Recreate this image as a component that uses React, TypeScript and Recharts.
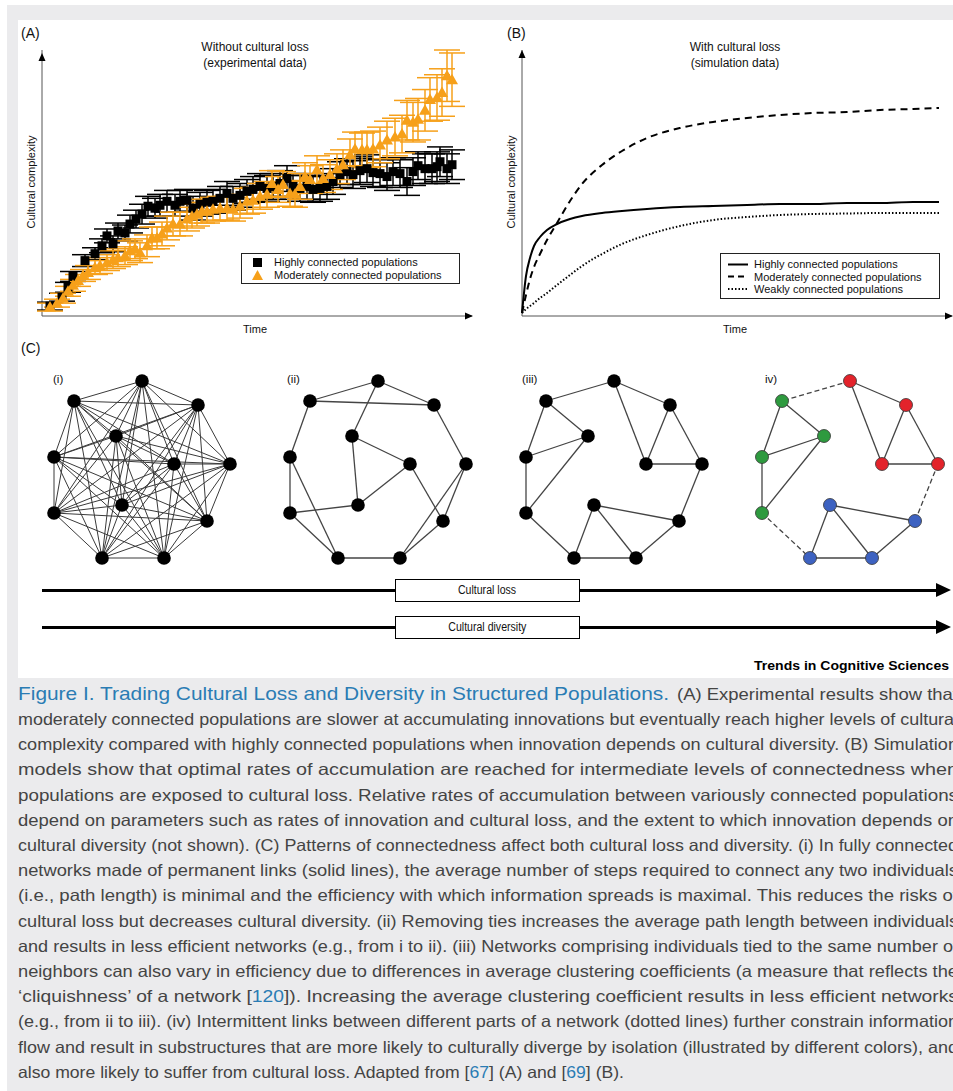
import React from "react";
import {
  ScatterChart,
  Scatter,
  XAxis,
  YAxis,
  ErrorBar,
  ReferenceLine,
  ReferenceDot,
  LineChart,
  Line,
} from "recharts";

const FONT = '"Liberation Sans", Arial, Helvetica, sans-serif';
const ORANGE = "#f6a01a";
const CAPTION = "#444";

// Panel A: experimental data (time, complexity, error)
const highT = [8, 20, 26, 31, 43, 53, 60, 65, 71, 76, 83, 88, 94, 100, 106, 113, 118, 125, 133, 138, 145, 151, 158, 165, 171, 178, 185, 191, 198, 205, 211, 218, 225, 231, 238, 245, 251, 258, 265, 271, 278, 285, 291, 298, 305, 311, 318, 325, 331, 338, 345, 351, 358, 365, 371, 376, 383, 390, 395, 398, 405, 410];
const highY = [10, 19, 29, 40, 56, 63, 71, 81, 73, 86, 84, 93, 98, 103, 111, 109, 112, 116, 112, 116, 117, 109, 113, 115, 116, 119, 124, 119, 122, 126, 128, 131, 129, 131, 134, 139, 131, 129, 131, 128, 129, 131, 136, 143, 146, 143, 147, 149, 145, 144, 141, 146, 144, 136, 146, 152, 149, 149, 151, 156, 149, 153];
const highErr = [4, 4, 5, 5, 6, 6, 7, 7, 8, 8, 8, 9, 9, 10, 10, 10, 11, 11, 11, 11, 11, 12, 12, 12, 12, 12, 12, 12, 12, 12, 13, 13, 13, 13, 13, 13, 13, 13, 13, 13, 13, 13, 13, 13, 13, 14, 14, 14, 14, 14, 14, 14, 14, 14, 14, 14, 15, 15, 15, 15, 15, 15];

const modT = [8, 15, 21, 26, 31, 36, 41, 46, 53, 58, 65, 71, 76, 83, 88, 93, 98, 105, 110, 115, 120, 125, 131, 138, 145, 150, 155, 160, 165, 171, 178, 185, 191, 198, 205, 211, 218, 225, 230, 236, 241, 248, 253, 258, 263, 268, 275, 281, 288, 295, 301, 308, 313, 320, 325, 331, 338, 345, 353, 360, 365, 371, 376, 383, 388, 395, 400, 405, 410];
const modY = [9, 13, 18, 25, 31, 36, 41, 44, 49, 51, 54, 57, 59, 61, 66, 68, 64, 71, 79, 79, 83, 89, 93, 93, 98, 101, 103, 106, 106, 108, 109, 109, 108, 111, 116, 117, 121, 123, 134, 128, 133, 124, 123, 131, 141, 138, 148, 139, 143, 149, 153, 163, 169, 168, 168, 169, 173, 178, 181, 184, 198, 196, 199, 208, 219, 221, 226, 243, 239];
const modErr = [4, 4, 5, 5, 6, 6, 6, 7, 7, 8, 8, 9, 9, 9, 10, 10, 10, 11, 11, 11, 12, 12, 12, 12, 12, 12, 12, 12, 12, 12, 12, 12, 12, 12, 13, 13, 13, 13, 13, 13, 13, 13, 13, 13, 14, 14, 14, 14, 15, 15, 15, 16, 17, 17, 18, 18, 18, 19, 19, 19, 20, 20, 21, 21, 22, 23, 24, 26, 27];

// Panel B: simulation curves
const simTime = [0, 4, 8, 12, 18, 25, 35, 48, 60, 80, 100, 125, 158, 191, 225, 258, 291, 325, 358, 391, 417];
const simHigh = [3, 40, 58, 70, 79, 86, 92, 97, 100, 103, 105, 107, 109, 110, 111, 112, 112, 113, 113, 114, 114];
const simModerate = [3, 21, 37, 49, 62, 76, 93, 115, 132, 151, 165, 178, 188, 194, 198, 201, 203, 204, 206, 207, 208];
const simWeak = [3, 7, 10, 13, 18, 23, 31, 41, 50, 62, 72, 81, 90, 96, 99, 101, 102, 102.5, 103, 103, 103];

// Panel C: shared 12-node layout and the links of each network
const layoutX = [142, 74, 198, 116, 54, 174, 230, 122, 54, 207, 102, 164];
const layoutY = [21, 41, 45, 76, 97, 104, 104, 145, 153, 161, 198, 198];
const netOffset = [0, 236, 472, 708];
const netLabels = ["(i)", "(ii)", "(iii)", "iv)"];
const edgesII = [[0, 1], [0, 2], [1, 2], [0, 3], [3, 5], [3, 7], [5, 7], [1, 4], [4, 8], [4, 10], [8, 7], [8, 10], [10, 11], [5, 9], [2, 6], [6, 9], [6, 11], [9, 11]];
const edgesIII = [[0, 1], [0, 2], [0, 5], [2, 5], [2, 6], [5, 6], [1, 3], [1, 4], [4, 3], [4, 8], [8, 3], [8, 10], [10, 7], [10, 11], [7, 11], [7, 9], [11, 9], [6, 9]];
const dashedIV = ["0-1", "6-9", "8-10"];
const colorsIV = ["#e3232b", "#2e9a3f", "#e3232b", "#2e9a3f", "#2e9a3f", "#e3232b", "#e3232b", "#3d62c1", "#2e9a3f", "#3d62c1", "#3d62c1", "#3d62c1"];

const captionLines = [
  "moderately connected populations are slower at accumulating innovations but eventually reach higher levels of cultural",
  "complexity compared with highly connected populations when innovation depends on cultural diversity. (B) Simulation",
  "models show that optimal rates of accumulation are reached for intermediate levels of connectedness when",
  "populations are exposed to cultural loss. Relative rates of accumulation between variously connected populations",
  "depend on parameters such as rates of innovation and cultural loss, and the extent to which innovation depends on",
  "cultural diversity (not shown). (C) Patterns of connectedness affect both cultural loss and diversity. (i) In fully connected",
  "networks made of permanent links (solid lines), the average number of steps required to connect any two individuals",
  "(i.e., path length) is minimal and the efficiency with which information spreads is maximal. This reduces the risks of",
  "cultural loss but decreases cultural diversity. (ii) Removing ties increases the average path length between individuals",
  "and results in less efficient networks (e.g., from i to ii). (iii) Networks comprising individuals tied to the same number of",
  "neighbors can also vary in efficiency due to differences in average clustering coefficients (a measure that reflects the",
];

const highData = highT.map((x, i) => ({ x, y: highY[i], e: highErr[i] }));
const modData = modT.map((x, i) => ({ x, y: modY[i], e: modErr[i] }));
const simData = simTime.map((t, i) => ({ t, high: simHigh[i], moderate: simModerate[i], weak: simWeak[i] }));

const allPairs: number[][] = [];
for (let a = 0; a < 12; a++) for (let b = a + 1; b < 12; b++) allPairs.push([a, b]);
const netEdges = [allPairs, edgesII, edgesIII, edgesIII];

const nodes = netOffset.flatMap((off, n) =>
  layoutX.map((x, i) => ({ x: x + off, y: layoutY[i], fill: n === 3 ? colorsIV[i] : "#000", colored: n === 3 }))
);

const upArrow = (p: any) => (
  <polygon points={`${p.cx},${p.cy} ${p.cx - 3.5},${p.cy + 8} ${p.cx + 3.5},${p.cy + 8}`} fill="#000" />
);
const rightArrow = (p: any) => (
  <polygon points={`${p.cx + 1},${p.cy} ${p.cx - 7},${p.cy - 3.5} ${p.cx - 7},${p.cy + 3.5}`} fill="#000" />
);

const txt = (style: React.CSSProperties): React.CSSProperties => ({
  position: "absolute",
  fontFamily: FONT,
  color: "#111",
  whiteSpace: "nowrap",
  ...style,
});

const Titles = ({ cx, l1, l2 }: { cx: number; l1: string; l2: string }) => (
  <div style={txt({ left: cx - 100, top: 39, width: 200, textAlign: "center", fontSize: 12, lineHeight: "16px" })}>
    {l1}
    <br />
    {l2}
  </div>
);

const YLabel = ({ cx }: { cx: number }) => (
  <div
    style={txt({
      left: cx - 60,
      top: 175,
      width: 120,
      height: 14,
      lineHeight: "14px",
      textAlign: "center",
      fontSize: 11,
      transform: "rotate(-90deg)",
    })}
  >
    Cultural complexity
  </div>
);

const FlowArrow = ({ y, label }: { y: number; label: string }) => (
  <>
    <div style={{ position: "absolute", left: 42, top: y - 1.5, width: 898, height: 3, background: "#000" }} />
    <svg style={{ position: "absolute", left: 936, top: y - 7 }} width={16} height={14}>
      <polygon points="0,0 15,7 0,14" fill="#000" />
    </svg>
    <div
      style={txt({
        left: 395,
        top: y - 11,
        width: 183,
        height: 21,
        border: "1px solid #000",
        background: "#fff",
        textAlign: "center",
        lineHeight: "21px",
        fontSize: 12,
      })}
    >
      <span style={{ display: "inline-block", transform: "scaleX(0.88)" }}>{label}</span>
    </div>
  </>
);

export default function App() {
  return (
    <div style={{ position: "absolute", left: 0, top: 0, width: 953, height: 1091, background: "#fff", overflow: "hidden" }}>
      <div style={{ position: "absolute", left: 7, top: 5, width: 946, height: 1086, background: "#ebebed" }} />
      <div style={{ position: "absolute", left: 18, top: 20, width: 935, height: 658, background: "#fff" }} />

      {/* Panel A */}
      <div style={{ position: "absolute", left: 0, top: 0 }}>
        <ScatterChart width={480} height={340} margin={{ top: 50, left: 42, right: 8, bottom: 24 }}>
          <XAxis type="number" dataKey="x" domain={[0, 430]} hide />
          <YAxis type="number" dataKey="y" domain={[0, 266]} hide />
          <ReferenceLine x={0} stroke="#555" strokeWidth={1} ifOverflow="visible" />
          <ReferenceLine y={0} stroke="#555" strokeWidth={1} ifOverflow="visible" />
          <ReferenceDot x={0} y={266} ifOverflow="visible" shape={upArrow} />
          <ReferenceDot x={430} y={0} ifOverflow="visible" shape={rightArrow} />
          <Scatter
            data={highData}
            isAnimationActive={false}
            shape={(p: any) => <rect x={p.cx - 4.5} y={p.cy - 4.5} width={9} height={9} fill="#000" />}
          >
            <ErrorBar dataKey="e" direction="y" width={13} stroke="#000" strokeWidth={1.5} isAnimationActive={false} />
          </Scatter>
          <Scatter
            data={modData}
            isAnimationActive={false}
            shape={(p: any) => (
              <polygon points={`${p.cx},${p.cy - 6} ${p.cx - 6},${p.cy + 4.5} ${p.cx + 6},${p.cy + 4.5}`} fill={ORANGE} />
            )}
          >
            <ErrorBar dataKey="e" direction="y" width={13} stroke={ORANGE} strokeWidth={1.5} isAnimationActive={false} />
          </Scatter>
        </ScatterChart>
      </div>
      <div style={txt({ left: 21, top: 25, fontSize: 14, lineHeight: "16px" })}>(A)</div>
      <Titles cx={255} l1="Without cultural loss" l2="(experimental data)" />
      <YLabel cx={31} />
      <div style={txt({ left: 205, top: 322, width: 100, textAlign: "center", fontSize: 11, lineHeight: "14px" })}>Time</div>
      <div style={{ position: "absolute", left: 241, top: 253, width: 217, height: 29, border: "1px solid #222", background: "#fff" }}>
        <svg style={{ position: "absolute", left: 0, top: 0 }} width={30} height={29}>
          <rect x={11} y={4} width={9} height={9} fill="#000" />
          <polygon points="15.5,16 10,26 21,26" fill={ORANGE} />
        </svg>
        <div style={txt({ left: 32, top: 2, fontSize: 11, lineHeight: "12px" })}>Highly connected populations</div>
        <div style={txt({ left: 32, top: 15, fontSize: 11, lineHeight: "12px" })}>Moderately connected populations</div>
      </div>

      {/* Panel B */}
      <div style={{ position: "absolute", left: 480, top: 0 }}>
        <LineChart width={473} height={340} data={simData} margin={{ top: 50, left: 42, right: 1, bottom: 24 }}>
          <XAxis type="number" dataKey="t" domain={[0, 430]} hide />
          <YAxis type="number" domain={[0, 266]} hide />
          <ReferenceLine x={0} stroke="#555" strokeWidth={1} ifOverflow="visible" />
          <ReferenceLine y={0} stroke="#555" strokeWidth={1} ifOverflow="visible" />
          <ReferenceDot x={0} y={266} ifOverflow="visible" shape={upArrow} />
          <ReferenceDot x={430} y={0} ifOverflow="visible" shape={rightArrow} />
          <Line type="monotone" dataKey="weak" stroke="#000" strokeWidth={2} strokeDasharray="1.5 2" dot={false} isAnimationActive={false} />
          <Line type="monotone" dataKey="moderate" stroke="#000" strokeWidth={2} strokeDasharray="7 5" dot={false} isAnimationActive={false} />
          <Line type="monotone" dataKey="high" stroke="#000" strokeWidth={2} dot={false} isAnimationActive={false} />
        </LineChart>
      </div>
      <div style={txt({ left: 507, top: 25, fontSize: 14, lineHeight: "16px" })}>(B)</div>
      <Titles cx={735} l1="With cultural loss" l2="(simulation data)" />
      <YLabel cx={511} />
      <div style={txt({ left: 685, top: 322, width: 100, textAlign: "center", fontSize: 11, lineHeight: "14px" })}>Time</div>
      <div style={{ position: "absolute", left: 720, top: 253, width: 218, height: 44, border: "1px solid #222", background: "#fff" }}>
        <svg style={{ position: "absolute", left: 0, top: 0 }} width={32} height={44}>
          <line x1={7} x2={27} y1={10.5} y2={10.5} stroke="#000" strokeWidth={2} />
          <line x1={7} x2={27} y1={22.5} y2={22.5} stroke="#000" strokeWidth={2} strokeDasharray="6 4" />
          <line x1={7} x2={27} y1={35} y2={35} stroke="#000" strokeWidth={2} strokeDasharray="1.5 2" />
        </svg>
        <div style={txt({ left: 33, top: 4, fontSize: 11, lineHeight: "12px" })}>Highly connected populations</div>
        <div style={txt({ left: 33, top: 16.5, fontSize: 11, lineHeight: "12px" })}>Moderately connected populations</div>
        <div style={txt({ left: 33, top: 29, fontSize: 11, lineHeight: "12px" })}>Weakly connected populations</div>
      </div>

      {/* Panel C */}
      <div style={txt({ left: 21, top: 340, fontSize: 14, lineHeight: "16px" })}>(C)</div>
      <div style={{ position: "absolute", left: 0, top: 360 }}>
        <ScatterChart width={953} height={220} margin={{ top: 0, left: 0, right: 0, bottom: 0 }}>
          <XAxis type="number" dataKey="x" domain={[0, 953]} hide />
          <YAxis type="number" dataKey="y" domain={[0, 220]} reversed hide />
          {netEdges.flatMap((edges, n) =>
            edges.map(([a, b]) => {
              const dashed = n === 3 && dashedIV.includes(`${a}-${b}`);
              return (
                <ReferenceLine
                  key={`e${n}-${a}-${b}`}
                  segment={[
                    { x: layoutX[a] + netOffset[n], y: layoutY[a] },
                    { x: layoutX[b] + netOffset[n], y: layoutY[b] },
                  ]}
                  stroke={n === 0 ? "#3a3a3a" : "#444"}
                  strokeWidth={n === 0 ? 1 : 1.3}
                  strokeDasharray={dashed ? "5 3" : undefined}
                  ifOverflow="visible"
                />
              );
            })
          )}
          <Scatter
            data={nodes}
            isAnimationActive={false}
            shape={(p: any) => (
              <circle
                cx={p.cx}
                cy={p.cy}
                r={p.payload.colored ? 6.5 : 6.8}
                fill={p.payload.fill}
                stroke={p.payload.colored ? "#333" : "none"}
                strokeWidth={0.8}
              />
            )}
          />
        </ScatterChart>
      </div>
      {netLabels.map((l, n) => (
        <div key={l} style={txt({ left: 53 + netOffset[n] + (n === 3 ? 4 : 0) - (n === 1 ? 2 : 0) - (n === 2 ? 3 : 0), top: 372, fontSize: 11.5, lineHeight: "14px" })}>
          {l}
        </div>
      ))}

      <FlowArrow y={590} label="Cultural loss" />
      <FlowArrow y={627} label="Cultural diversity" />

      {/* Caption */}
      <svg style={{ position: "absolute", left: 0, top: 640 }} width={953} height={451}>
        <text x={754} y={30} fontFamily={FONT} fontWeight={700} fontSize={13.5} textLength={195} lengthAdjust="spacingAndGlyphs" fill="#000">
          Trends in Cognitive Sciences
        </text>
        <text x={18} y={60} fontFamily={FONT} fontSize={19} fill="#2a7cb4" textLength={651} lengthAdjust="spacingAndGlyphs">
          Figure I. Trading Cultural Loss and Diversity in Structured Populations.
        </text>
        <text x={677} y={60} fontFamily={FONT} fontSize={16.5} fill={CAPTION} textLength={281} lengthAdjust="spacingAndGlyphs">
          (A) Experimental results show that
        </text>
        {captionLines.map((line, i) => (
          <text
            key={i}
            x={18}
            y={85 + i * 25.2}
            fontFamily={FONT}
            fontSize={16.5}
            fill={CAPTION}
            textLength={940}
            lengthAdjust="spacingAndGlyphs"
          >
            {line}
          </text>
        ))}
        <text x={18} y={85 + 11 * 25.2} fontFamily={FONT} fontSize={16.5} fill={CAPTION} textLength={940} lengthAdjust="spacingAndGlyphs">
          ‘cliquishness’ of a network [<tspan fill="#2a7cb4">120</tspan>]). Increasing the average clustering coefficient results in less efficient networks
        </text>
        <text x={18} y={85 + 12 * 25.2} fontFamily={FONT} fontSize={16.5} fill={CAPTION} textLength={940} lengthAdjust="spacingAndGlyphs">
          (e.g., from ii to iii). (iv) Intermittent links between different parts of a network (dotted lines) further constrain information
        </text>
        <text x={18} y={85 + 13 * 25.2} fontFamily={FONT} fontSize={16.5} fill={CAPTION} textLength={940} lengthAdjust="spacingAndGlyphs">
          flow and result in substructures that are more likely to culturally diverge by isolation (illustrated by different colors), and
        </text>
        <text x={18} y={85 + 14 * 25.2} fontFamily={FONT} fontSize={16.5} fill={CAPTION} textLength={606} lengthAdjust="spacingAndGlyphs">
          also more likely to suffer from cultural loss. Adapted from [<tspan fill="#2a7cb4">67</tspan>] (A) and [<tspan fill="#2a7cb4">69</tspan>] (B).
        </text>
      </svg>
    </div>
  );
}
